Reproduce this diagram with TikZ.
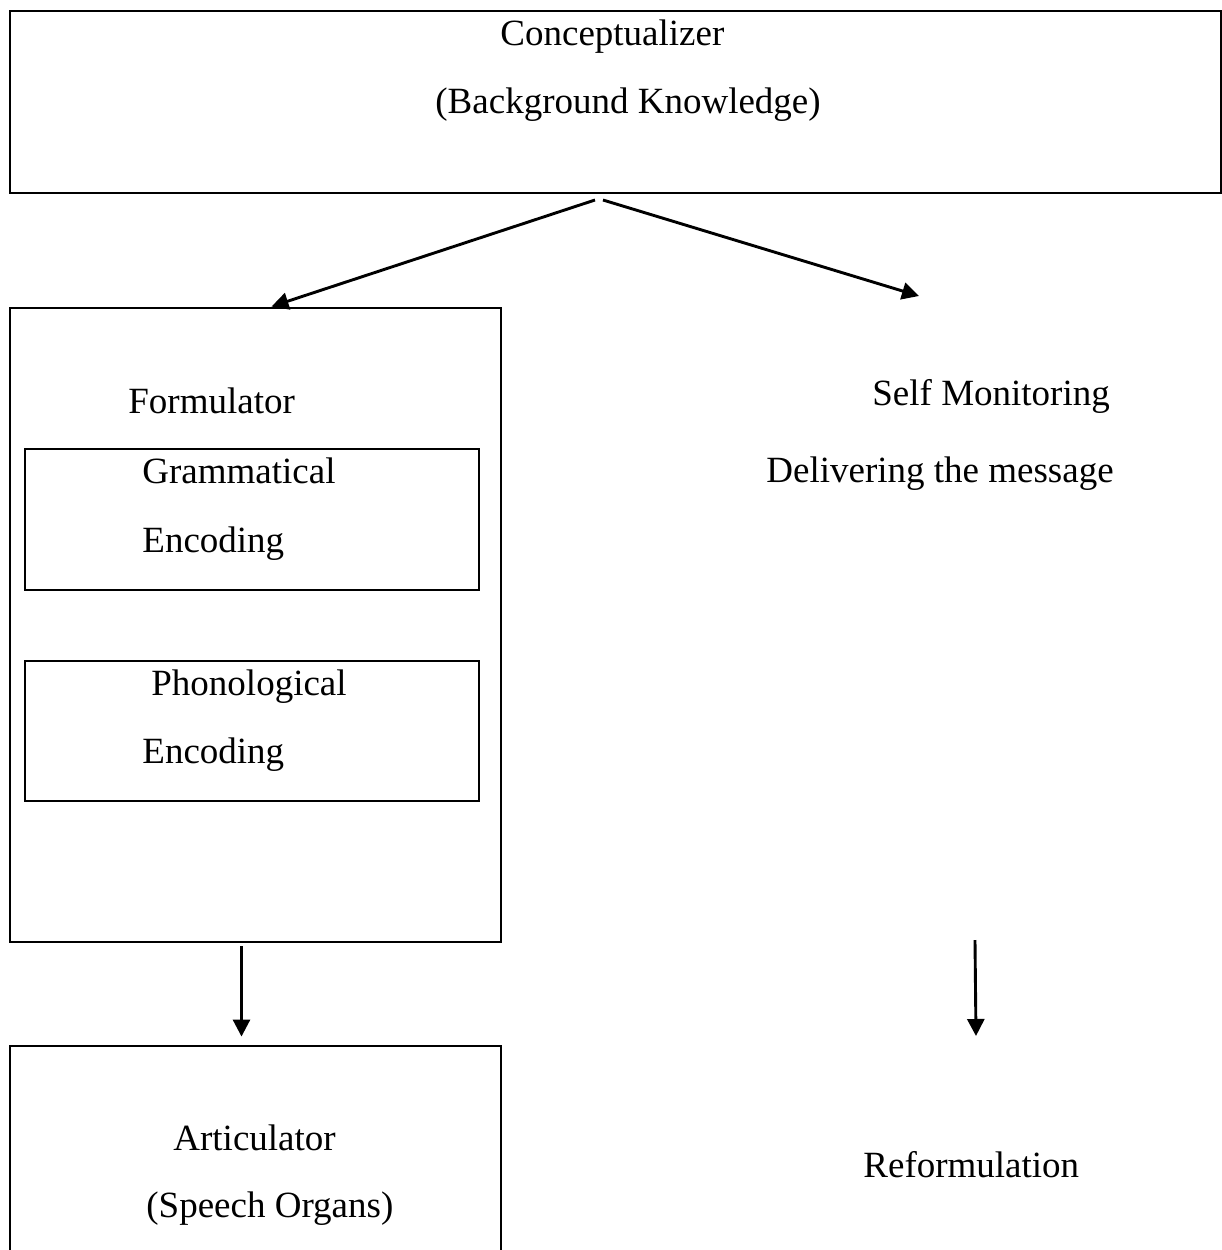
\documentclass[tikz,border=0pt]{standalone}
\usepackage{fontspec}
\setmainfont{Liberation Serif}
\usetikzlibrary{arrows.meta,positioning,fit,calc}

\tikzset{
  box/.style={draw,line width=1.45pt,inner sep=0pt},
  subbox/.style={draw,line width=1.15pt,inner sep=0pt},
  lbl/.style={inner sep=0pt,anchor=base west,font=\fontsize{18.5}{22}\selectfont},
  flow/.style={line width=1.45pt,-{Triangle[length=8.5pt,width=8.5pt]}}
}

\begin{document}
\begin{tikzpicture}[x=0.5pt,y=-0.5pt]
\useasboundingbox (0,0) rectangle (1222,1250);
% boxes
\node[box,fit={(10,11) (1221,193)}] (concept) {};
\node[box,fit={(10,308) (501,942)}] (formulator) {};
\node[subbox,fit={(25,449) (479,590)}] (gram) {};
\node[subbox,fit={(25,661) (479,801)}] (phon) {};
\node[box,fit={(10,1046) (501,1262)}] (articulator) {};
% texts
\node[lbl] (conceptName) at (500,45) {Conceptualizer};
\node[lbl] (conceptSub) at (435,113) {(Background Knowledge)};
\node[lbl] (formName) at (128,413) {Formulator};
\node[lbl] (gramA) at (142,483) {Grammatical};
\node[lbl] (gramB) at (142,552) {Encoding};
\node[lbl] (phonA) at (151,695) {Phonological};
\node[lbl] (phonB) at (142,763) {Encoding};
\node[lbl] (artName) at (173,1150) {Articulator};
\node[lbl] (artSub) at (146,1217) {(Speech Organs)};
\node[lbl] (monitor) at (872,405) {Self Monitoring};
\node[lbl] (deliver) at (766,482) {Delivering the message};
\node[lbl] (reform) at (863,1177) {Reformulation};
% connectors
\coordinate (splitL) at (595,200);
\coordinate (splitR) at (603,200);
\coordinate (monitorIn) at (919,296);
\coordinate (deliverOut) at (975,940);
\coordinate (reformIn) at (976,1036);
\draw[flow] (splitL) -- ($(formulator.north)+(16,0)$);
\draw[flow] (splitR) -- (monitorIn);
\draw[flow] ($(formulator.south)+(-14,3)$) -- ($(articulator.north)+(-14,-8)$);
\draw[flow] (deliverOut) -- (reformIn);
\end{tikzpicture}
\end{document}
